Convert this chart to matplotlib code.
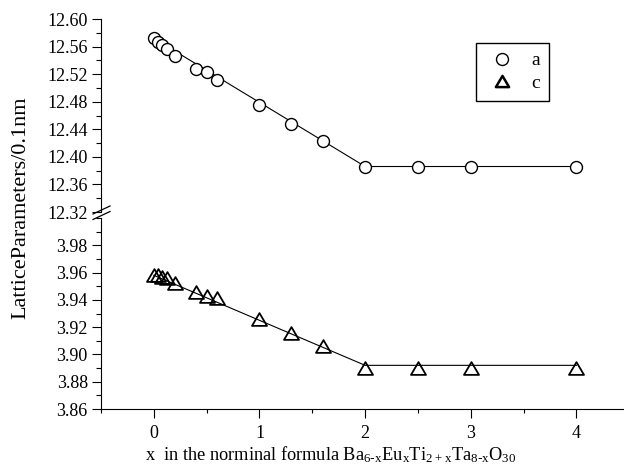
import numpy as np
import matplotlib
matplotlib.use('Agg')
from matplotlib import pyplot as plt
from matplotlib.lines import Line2D
from matplotlib.path import Path
from matplotlib.ticker import MultipleLocator

plt.rcParams['font.family'] = ['Liberation Serif', 'DejaVu Serif']
plt.rcParams['mathtext.default'] = 'regular'

# data
x = [0, 0.04, 0.08, 0.12, 0.2, 0.4, 0.5, 0.6, 1.0, 1.3, 1.6, 2.0, 2.5, 3.0, 4.0]
a = [12.572, 12.566, 12.562, 12.557, 12.547, 12.528, 12.523, 12.511,
     12.475, 12.448, 12.423, 12.386, 12.386, 12.386, 12.386]
c = [3.958, 3.958, 3.957, 3.956, 3.952, 3.946, 3.943, 3.941,
     3.926, 3.916, 3.906, 3.890, 3.890, 3.890, 3.890]
# guide lines drawn through the points
line_x = [0, 2, 4]
line_a = [12.572, 12.386, 12.386]
line_c = [3.958, 3.892, 3.892]

W, H = 624, 469
fig = plt.figure(figsize=(W / 100, H / 100), dpi=100)

def box(l, r, top, bot):
    return [l / W, 1 - bot / H, (r - l) / W, (bot - top) / H]

ax1 = fig.add_axes(box(101, 624, 19, 212))
ax2 = fig.add_axes(box(101, 624, 218, 409))

tri = Path([(-1, -0.85), (1, -0.85), (0, 0.85), (-1, -0.85)], closed=True)

ax1.plot(line_x, line_a, color='black', lw=0.8, zorder=1)
ax1.plot(x, a, 'o', ms=8.6, mfc='white', mec='black', mew=1.0, zorder=2)
ax2.plot(line_x, line_c, color='black', lw=0.8, zorder=1)
ax2.plot(x, c, ls='none', marker=tri, ms=10.8, mfc='none', mec='black', mew=1.3, zorder=2)

for ax in (ax1, ax2):
    ax.set_xlim(-0.5, 4.45)
    ax.spines['right'].set_visible(False)
    ax.spines['top'].set_visible(False)
    ax.tick_params(axis='y', which='major', direction='out', length=6.5, width=0.8,
                   labelsize=13, pad=3)
    ax.tick_params(axis='y', which='minor', direction='out', length=3.5, width=0.8)
    ax.tick_params(axis='x', which='major', direction='out', length=6.5, width=0.8,
                   labelsize=13, pad=5)
    ax.tick_params(axis='x', which='minor', direction='out', length=3, width=0.8)

ax1.set_ylim(12.32, 12.60)
ax1.set_yticks(np.arange(12.32, 12.601, 0.04))
ax1.yaxis.set_minor_locator(MultipleLocator(0.02))
ax1.set_yticklabels(['%.2f' % v for v in np.arange(12.32, 12.601, 0.04)])
ax1.spines['bottom'].set_visible(False)
ax1.set_xticks([])

ax2.set_ylim(3.86, 4.0)
ax2.set_yticks(np.arange(3.86, 3.981, 0.02))
ax2.set_yticklabels(['%.2f' % v for v in np.arange(3.86, 3.981, 0.02)])
ax2.yaxis.set_minor_locator(MultipleLocator(0.01))
ax2.set_xticks([0, 1, 2, 3, 4])
ax2.xaxis.set_minor_locator(MultipleLocator(0.5))

# axis break marks
for y0 in (214, 219.5):
    fig.add_artist(Line2D([93 / W, 110 / W], [1 - y0 / H, 1 - (y0 - 8) / H],
                          color='black', lw=0.9))

fig.text(21 / W, 1 - 208 / H, 'LatticeParameters/0.1nm', rotation=90,
         ha='center', va='center', fontsize=16)
fig.text(331 / W, 1 - 455 / H,
         'x  in the norminal formula Ba$_{6\\text{-}x}$Eu$_{x}$Ti$_{2+x}$Ta$_{8\\text{-}x}$O$_{30}$',
         ha='center', va='center', fontsize=13.2)

handles = [Line2D([], [], ls='none', marker='o', ms=8.6, mfc='white', mec='black', mew=1.0),
           Line2D([], [], ls='none', marker=tri, ms=9.5, mfc='none', mec='black', mew=1.8)]
fig.legend(handles, ['a', 'c'], loc='upper left', bbox_to_anchor=(476 / W, 1 - 43 / H),
           frameon=True, fancybox=False, edgecolor='black', framealpha=1,
           fontsize=14, handlelength=1.8, handletextpad=0.6, borderpad=0.45,
           labelspacing=0.25, borderaxespad=0)

fig.savefig('out.png', dpi=100)
